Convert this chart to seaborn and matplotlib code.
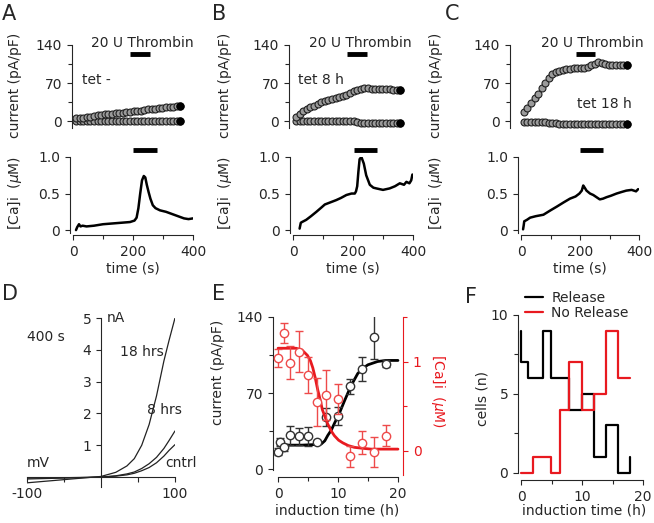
import numpy as np
import pandas as pd
import seaborn as sns
import matplotlib.pyplot as plt

sns.set_style("ticks")
plt.rcParams['font.family'] = ['DejaVu Sans']
plt.rcParams['font.size'] = 10
plt.rcParams['axes.linewidth'] = 0.8
plt.rcParams['xtick.major.width'] = 0.8
plt.rcParams['ytick.major.width'] = 0.8
plt.rcParams['xtick.minor.width'] = 0.8
plt.rcParams['ytick.minor.width'] = 0.8
plt.rcParams['xtick.major.size'] = 3.5
plt.rcParams['ytick.major.size'] = 3.5
plt.rcParams['xtick.minor.size'] = 3
plt.rcParams['ytick.minor.size'] = 3

RED = '#e8191f'

# ---- data: panels A-C, current (pA/pF) over time (s)
t_cur = [10, 22, 34, 46, 58, 70, 82, 94, 106, 118, 130, 142, 154, 166, 178,
         190, 202, 214, 226, 238, 250, 262, 274, 286, 298, 310, 322, 334, 346, 358]
cur_a_rise = [6, 6, 7, 8, 9, 10, 11, 12, 13, 14, 14, 15, 16, 16, 17,
              18, 19, 19, 20, 21, 22, 23, 23, 24, 25, 26, 26, 27, 28, 29]
cur_a_flat = [1, 1, 1, 0, 0, 0, 0, 0, 0, 0, 0, 0, 0, 0, 0,
              0, 0, 0, 0, 0, 0, 0, 0, 0, 0, 0, 0, 0, 0, 0]
cur_b_rise = [8, 14, 19, 23, 26, 29, 32, 35, 37, 39, 41, 43, 45, 47, 49,
              52, 55, 58, 60, 61, 61, 60, 60, 60, 59, 59, 59, 58, 58, 58]
cur_b_flat = [1, 0, 0, 0, 0, 0, 0, 0, 0, 0, 0, 0, 0, 0, 0,
              0, 0, -1, -3, -3, -3, -3, -3, -3, -3, -3, -3, -3, -3, -3]
cur_c_rise = [17, 25, 34, 43, 51, 61, 70, 79, 86, 91, 93, 95, 96, 96, 97,
              97, 97, 98, 100, 103, 106, 108, 107, 105, 104, 103, 103, 103, 103, 103]
cur_c_flat = [-1, -1, -1, -1, -1, -1, -1, -2, -2, -3, -4, -5, -5, -5, -5,
              -5, -5, -5, -5, -5, -5, -5, -5, -5, -5, -5, -5, -5, -5, -5]

# ---- data: panels A-C, [Ca]i (uM) over time (s)
ca_a_t = [10, 14, 20, 25, 32, 45, 70, 100, 130, 160, 190, 205, 212, 218, 224,
          230, 236, 241, 246, 252, 258, 266, 275, 290, 310, 330, 350, 370, 385, 400]
ca_a = [0.0, 0.04, 0.08, 0.05, 0.06, 0.05, 0.06, 0.08, 0.09, 0.1, 0.11, 0.13, 0.17, 0.3, 0.5,
        0.68, 0.74, 0.72, 0.62, 0.52, 0.43, 0.34, 0.3, 0.27, 0.25, 0.22, 0.19, 0.16, 0.15, 0.16]
ca_b_t = [22, 26, 30, 44, 60, 78, 95, 106, 125, 144, 160, 178, 195, 206, 210, 214, 218,
          222, 228, 236, 244, 256, 268, 278, 300, 322, 340, 356, 370, 378, 388, 394, 398]
ca_b = [0.02, 0.1, 0.11, 0.14, 0.19, 0.25, 0.31, 0.35, 0.38, 0.41, 0.44, 0.48, 0.5, 0.5, 0.53, 0.6, 0.8,
        0.97, 1.0, 0.91, 0.75, 0.62, 0.58, 0.57, 0.55, 0.57, 0.6, 0.64, 0.62, 0.66, 0.64, 0.68, 0.76]
ca_c_t = [7, 9, 11, 20, 31, 50, 76, 100, 121, 145, 166, 185, 198, 206, 211,
          216, 222, 234, 245, 256, 267, 278, 290, 305, 324, 340, 357, 375, 390, 397]
ca_c = [0.01, 0.06, 0.12, 0.14, 0.17, 0.19, 0.21, 0.27, 0.32, 0.38, 0.43, 0.46, 0.5, 0.54, 0.61,
        0.58, 0.54, 0.5, 0.48, 0.45, 0.42, 0.43, 0.45, 0.47, 0.5, 0.52, 0.54, 0.55, 0.53, 0.56]

# ---- data: panel D, I-V curves at 400 s
mv = [-100, -50, 0, 20, 35, 45, 55, 65, 75, 85, 92, 100]
iv_18h = [-0.18, -0.08, 0.02, 0.15, 0.35, 0.58, 1.0, 1.65, 2.55, 3.65, 4.3, 5.0]
iv_8h = [-0.06, -0.03, 0.0, 0.04, 0.1, 0.16, 0.27, 0.42, 0.62, 0.9, 1.15, 1.45]
iv_ctrl = [-0.03, -0.02, 0.0, 0.03, 0.07, 0.12, 0.2, 0.3, 0.45, 0.66, 0.84, 1.02]

# ---- data: panel E, current and [Ca]i vs induction time (h)
e_h = [0, 0.3, 1, 2, 3.5, 5, 6.5, 8, 10, 12, 14, 16, 18]
e_cur = [16, 25, 20, 31, 30, 30, 25, 48, 49, 76, 92, 122, 97]
e_cur_err = [3, 4, 3, 9, 8, 9, 2, 8, 8, 7, 11, 21, 3]
e_ca_h = [0, 1, 2, 3.5, 5, 6.5, 8, 10, 12, 14, 16, 18]
e_ca = [1.04, 1.32, 0.99, 1.11, 0.85, 0.55, 0.63, 0.58, -0.06, 0.09, -0.01, 0.17]
e_ca_err = [0.1, 0.11, 0.19, 0.23, 0.2, 0.27, 0.28, 0.17, 0.12, 0.13, 0.17, 0.12]
fit_cur_h = [0, 4, 6, 7.2, 7.8, 8.3, 8.9, 9.4, 10.2, 11.1, 12.2, 13.3, 14.2, 15, 16.6, 18, 20]
fit_cur = [22, 22, 22.5, 23, 26, 31, 36, 42, 51, 63, 77, 88, 93, 96, 99, 100, 100]
fit_ca_h = [0, 3, 4, 4.9, 5.4, 5.8, 6.2, 6.6, 7, 7.4, 7.9, 8.3, 8.9, 9.4, 10.1,
            10.8, 11.7, 12.7, 14, 15.5, 20]
fit_ca = [1.15, 1.15, 1.13, 1.07, 1.01, 0.93, 0.82, 0.69, 0.58, 0.46, 0.37, 0.3, 0.22, 0.17, 0.12,
          0.09, 0.06, 0.04, 0.03, 0.02, 0.02]

# ---- data: panel F, cells per induction time
rel_h = [0, 0, 1.2, 3.6, 4.9, 7.9, 10, 11.9, 13.9, 15.9, 17.9]
rel_n = [9, 7, 6, 9, 6, 4, 5, 1, 3, 0, 1]
norel_h = [0, 2, 4.9, 6.4, 7.9, 10, 11.9, 13.9, 15.9, 17.9]
norel_n = [0, 1, 0, 4, 7, 4, 5, 9, 6, 6]

W, H = 654, 523
fig = plt.figure(figsize=(W / 100, H / 100), dpi=100)


def px_axes(l, t, r, b):
    return fig.add_axes([l / W, 1 - b / H, (r - l) / W, (b - t) / H])


def ftext(x, y, s, **kw):
    kw.setdefault('va', 'center')
    kw.setdefault('ha', 'left')
    fig.text(x / W, 1 - y / H, s, **kw)


ca_label = r'[Ca]i  ($\mu$M)'

panels = [
    dict(letter='A', lx=2, spine=72, zero=73, end=193, rise=cur_a_rise, flat=cur_a_flat,
         ca_t=ca_a_t, ca=ca_a, tet='tet -', tet_xy=(82, 80), thr_x=142, top_bar=(190, 255),
         bot_bar=(200, 280), ylab_x=15),
    dict(letter='B', lx=212, spine=289, zero=293, end=413, rise=cur_b_rise, flat=cur_b_flat,
         ca_t=ca_b_t, ca=ca_b, tet='tet 8 h', tet_xy=(298, 80), thr_x=360, top_bar=(180, 247),
         bot_bar=(203, 280), ylab_x=225),
    dict(letter='C', lx=445, spine=510, zero=521, end=639, rise=cur_c_rise, flat=cur_c_flat,
         ca_t=ca_c_t, ca=ca_c, tet='tet 18 h', tet_xy=(577, 104), thr_x=592, top_bar=(186, 251),
         bot_bar=(200, 278), ylab_x=436),
]

for p in panels:
    scale = (p['end'] - p['zero']) / 400
    ax = px_axes(p['spine'], 45, p['end'], 128)
    ax.set_xlim(-(p['zero'] - p['spine']) / scale, 400)
    ax.set_ylim(-12, 140)
    for series in (p['flat'], p['rise']):
        sns.lineplot(x=t_cur, y=series, ax=ax, estimator=None, color='#333333', lw=0.6,
                     marker='o', markersize=5, markerfacecolor='#9a9a9a',
                     markeredgecolor='#202020', markeredgewidth=0.8)
        ax.plot(t_cur[-1], series[-1], 'o', color='black', ms=5, zorder=5)
    ax.plot(p['top_bar'], [124, 124], color='black', lw=3.5, solid_capstyle='butt', clip_on=False)
    ax.spines[['top', 'right', 'bottom']].set_visible(False)
    ax.set_xticks([])
    ax.set_yticks([0, 70, 140])
    ax.set_yticks([35, 105], minor=True)
    ax.set_xlabel('')
    ax.set_ylabel('')

    bx = px_axes(p['zero'], 157, p['end'], 233)
    sns.lineplot(x=p['ca_t'], y=p['ca'], ax=bx, estimator=None, color='black', lw=1.8)
    bx.plot(p['bot_bar'], [1.1, 1.1], color='black', lw=3.5, solid_capstyle='butt', clip_on=False)
    bx.set_xlim(0, 400)
    bx.set_ylim(-0.04, 1.0)
    bx.spines[['top', 'right']].set_visible(False)
    bx.spines['left'].set_position(('outward', 2.2))
    bx.spines['bottom'].set_position(('outward', 1.5))
    bx.set_xticks([0, 200, 400])
    bx.set_xticks([100, 300], minor=True)
    bx.set_yticks([0, 0.5, 1.0])
    bx.set_yticklabels(['0', '0.5', '1.0'])
    bx.set_xlabel('')
    bx.set_ylabel('')

    ftext(p['lx'], 14, p['letter'], fontsize=15)
    ftext(p['thr_x'], 43, '20 U Thrombin', ha='center')
    ftext(p['tet_xy'][0], p['tet_xy'][1], p['tet'])
    ftext(p['ylab_x'], 85, 'current (pA/pF)', rotation=90, ha='center')
    ftext(p['ylab_x'], 193, ca_label, rotation=90, ha='center')
    ftext((p['zero'] + p['end']) / 2, 268, 'time (s)', ha='center')

# ---- panel D
dx = px_axes(27, 318, 175, 493)
for iv in (iv_ctrl, iv_8h, iv_18h):
    sns.lineplot(x=mv, y=iv, ax=dx, estimator=None, color='#222222', lw=0.9)
dx.set_xlim(-100, 100)
dx.set_ylim(-0.5, 5)
dx.spines[['top', 'right']].set_visible(False)
dx.spines['left'].set_position(('data', 0))
dx.spines['bottom'].set_position(('data', 0))
dx.spines['left'].set_bounds(-0.3, 5)
dx.spines['bottom'].set_bounds(-100, 100)
dx.set_yticks([1, 2, 3, 4, 5])
dx.set_xticks([-100, -50, 50, 100])
dx.set_xticklabels(['-100', '', '', '100'])
dx.set_xlabel('')
dx.set_ylabel('')
ftext(2, 294, 'D', fontsize=15)
ftext(107, 318, 'nA')
ftext(27, 337, '400 s')
ftext(120, 352, '18 hrs')
ftext(147, 410, '8 hrs')
ftext(165, 463, 'cntrl')
ftext(27, 463, 'mV')

# ---- panel E
ex = px_axes(273, 317, 403, 475)
ex.set_xlim(-0.84, 20.84)
ex.set_ylim(-5.5, 140)
sns.lineplot(x=fit_cur_h, y=fit_cur, ax=ex, estimator=None, color='black', lw=2)
ex.errorbar(e_h, e_cur, yerr=e_cur_err, fmt='o', ms=6, mfc='white', mec='#333333', mew=1,
            ecolor='#333333', elinewidth=1, capsize=3, capthick=1, zorder=4)
ex.spines[['top', 'right']].set_visible(False)
ex.spines['left'].set_bounds(-1, 140)
ex.spines['bottom'].set_position(('outward', 1.5))
ex.spines['bottom'].set_bounds(0, 20)
ex.set_yticks([0, 70, 140])
ex.set_yticks([35, 105], minor=True)
ex.set_xticks([0, 10, 20])
ex.set_xticks([5, 15], minor=True)
ex.set_xlabel('')
ex.set_ylabel('')

ex2 = ex.twinx()
ex2.set_ylim(-0.27, 1.5)
sns.lineplot(x=fit_ca_h, y=fit_ca, ax=ex2, estimator=None, color=RED, lw=2)
ex2.errorbar(e_ca_h, e_ca, yerr=e_ca_err, fmt='o', ms=6, mfc='white', mec='#ee4a4a', mew=1,
             ecolor='#ee4a4a', elinewidth=1, capsize=3, capthick=1, zorder=4)
ex2.spines[['top', 'left', 'bottom']].set_visible(False)
ex2.spines['right'].set_color(RED)
ex2.set_yticks([0, 1])
ex2.set_yticks([0.5, 1.5], minor=True)
ex2.tick_params(axis='y', which='both', colors=RED, labelcolor=RED)
ex2.set_xlabel('')
ex2.set_ylabel('')
ftext(212, 294, 'E', fontsize=15)
ftext(218, 372, 'current (pA/pF)', rotation=90, ha='center')
ftext(438, 391, ca_label, rotation=270, ha='center', color=RED)
ftext(337, 510, 'induction time (h)', ha='center')

# ---- panel F
fx = px_axes(521, 315, 643, 476)
sns.lineplot(x=rel_h, y=rel_n, ax=fx, estimator=None, sort=False, drawstyle='steps-post',
             color='black', lw=1.6, label='Release')
sns.lineplot(x=norel_h, y=norel_n, ax=fx, estimator=None, sort=False, drawstyle='steps-post',
             color=RED, lw=1.6, label='No Release')
fx.set_xlim(0, 20)
fx.set_ylim(-0.2, 10)
fx.spines[['top', 'right']].set_visible(False)
fx.spines['left'].set_position(('outward', 2.2))
fx.spines['bottom'].set_position(('outward', 3))
fx.spines['left'].set_bounds(0, 10)
fx.spines['bottom'].set_bounds(0, 20)
fx.set_yticks([0, 5, 10])
fx.set_yticks([2.5, 7.5], minor=True)
fx.set_xticks([0, 10, 20])
fx.set_xticks([5, 15], minor=True)
fx.set_xlabel('')
fx.set_ylabel('')
for line in fx.get_lines():
    line.set_clip_on(False)
fx.legend(loc='upper left', bbox_to_anchor=(525 / W, 1 - 291 / H), bbox_transform=fig.transFigure,
          frameon=False, handlelength=1.3, handletextpad=0.6, labelspacing=0.05, borderpad=0,
          borderaxespad=0)
ftext(465, 297, 'F', fontsize=15)
ftext(483, 398, 'cells (n)', rotation=90, ha='center')
ftext(584, 510, 'induction time (h)', ha='center')

fig.savefig('out.png', dpi=100)
